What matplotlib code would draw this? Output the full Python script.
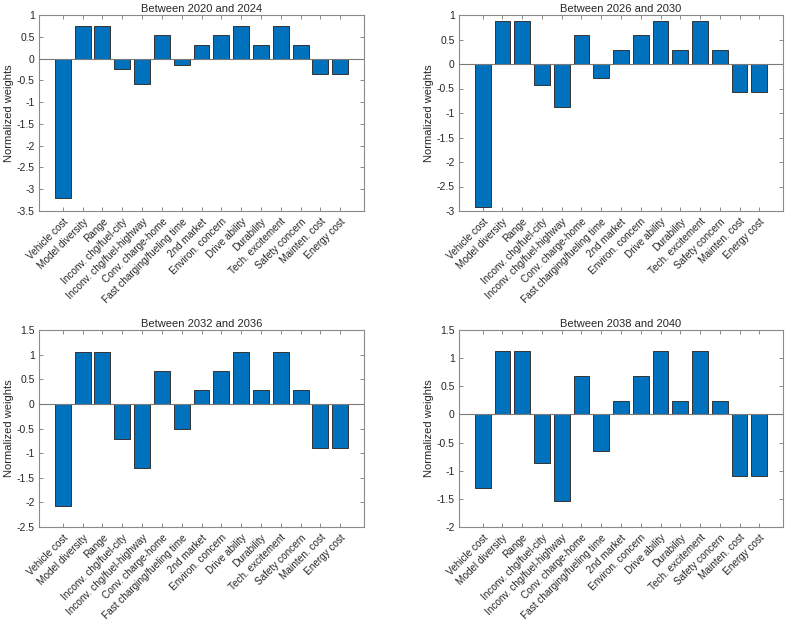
import numpy as np
import matplotlib.pyplot as plt
import matplotlib.transforms as mtransforms

plt.rcParams['font.family'] = ['Liberation Sans', 'DejaVu Sans']

# factor names (x axis)
factors = ['Vehicle cost', 'Model diversity', 'Range', 'Inconv. chg/fuel-city',
           'Inconv. chg/fuel-highway', 'Conv. charge-home', 'Fast charging/fueling time',
           '2nd market', 'Environ. concern', 'Drive ability', 'Durability',
           'Tech. excitement', 'Safety concern', 'Mainten. cost', 'Energy cost']

# normalized weights, one list per period
w_2020_2024 = [-3.21, 0.75, 0.75, -0.25, -0.58, 0.53, -0.14, 0.31, 0.53, 0.75, 0.31, 0.75, 0.31, -0.35, -0.35]
w_2026_2030 = [-2.91, 0.87, 0.87, -0.435, -0.87, 0.585, -0.286, 0.286, 0.585, 0.87, 0.286, 0.87, 0.286, -0.57, -0.57]
w_2032_2036 = [-2.08, 1.06, 1.06, -0.705, -1.295, 0.664, -0.515, 0.278, 0.664, 1.06, 0.278, 1.06, 0.278, -0.895, -0.895]
w_2038_2040 = [-1.315, 1.13, 1.13, -0.87, -1.545, 0.687, -0.651, 0.237, 0.687, 1.13, 0.237, 1.13, 0.237, -1.095, -1.095]

titles = ['Between 2020 and 2024', 'Between 2026 and 2030',
          'Between 2032 and 2036', 'Between 2038 and 2040']
ylims = [(-3.5, 1), (-3, 1), (-2.5, 1.5), (-2, 1.5)]
all_w = [w_2020_2024, w_2026_2030, w_2032_2036, w_2038_2040]

# axes boxes in pixel coords: left, top, right, bottom
W, H = 789, 623
boxes = [(39, 15, 364, 211), (459, 15, 783, 211),
         (39, 330, 364, 527), (459, 330, 783, 527)]

fig = plt.figure(figsize=(W / 100, H / 100), dpi=100)
x = np.arange(len(factors))
fs = 7.5
shift = mtransforms.ScaledTranslation(0.07, 0, fig.dpi_scale_trans)
for i in range(4):
    l, t, r, b = boxes[i]
    ax = fig.add_axes([l / W, 1 - b / H, (r - l) / W, (b - t) / H])
    ax.bar(x, all_w[i], width=0.8, color='#0072BD', edgecolor='#333333', linewidth=0.7, zorder=2)
    ax.axhline(0, color='#7a7a7a', linewidth=0.8, zorder=3)
    ax.set_xlim(-1.2, len(factors) - 1 + 1.2)
    ax.set_ylim(*ylims[i])
    yt = np.arange(ylims[i][0], ylims[i][1] + 0.01, 0.5)
    ax.set_yticks(yt)
    ax.set_yticklabels(['%g' % v for v in yt])
    ax.set_xticks(x)
    ax.set_xticklabels(factors, rotation=45, ha='right', rotation_mode='anchor', fontsize=7.2)
    for lab in ax.get_xticklabels():
        lab.set_transform(lab.get_transform() + shift)
    ax.tick_params(direction='in', top=True, right=True, length=3, width=0.6,
                   colors='#777777', labelcolor='#262626', pad=3)
    ax.tick_params(axis='x', pad=4)
    ax.tick_params(axis='y', labelsize=fs)
    for s in ax.spines.values():
        s.set_color('#8a8a8a')
        s.set_linewidth(0.8)
    ax.set_title(titles[i], fontsize=8, color='#262626', pad=2)
    ax.set_ylabel('Normalized weights', fontsize=8, color='#262626', labelpad=2)

fig.savefig('out.png', dpi=100)
